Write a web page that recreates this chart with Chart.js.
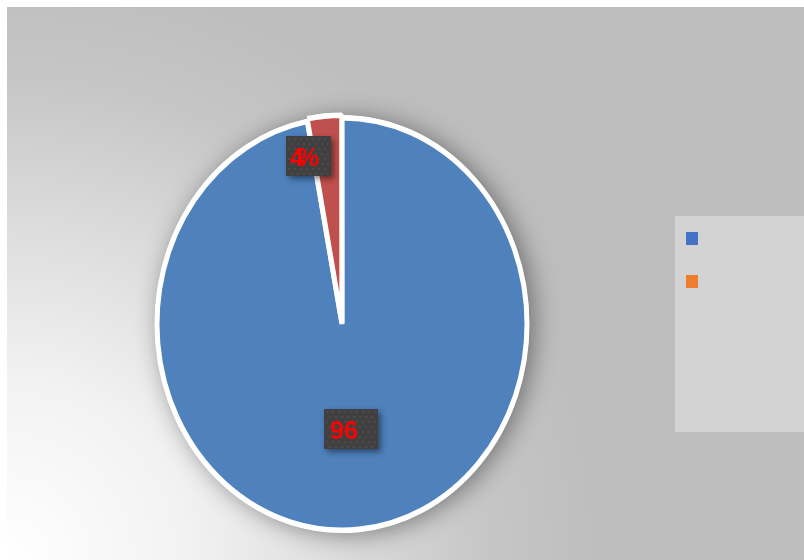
<!DOCTYPE html>
<html>
<head>
<meta charset="utf-8">
<script src="https://cdn.jsdelivr.net/npm/chart.js@4.4.1/dist/chart.umd.min.js"></script>
<style>
html, body { margin: 0; padding: 0; background: #fff; }
#wrap { position: relative; width: 804px; height: 560px; }
</style>
</head>
<body>
<div id="wrap"><canvas id="pieChart" width="804" height="560"></canvas></div>
<script>
// values (legend entries have no text)
const categories = ['', ''];
const values = [97, 3];
const labelTexts = ['96', '4%'];
const sliceColors = ['#4F81BD', '#C0504D'];
const legendColors = ['#4472C4', '#ED7D31'];

// the pie in the picture is an ellipse, taller than wide
const SCALE_Y = 208.5 / 187;

const backdrop = {
	id: 'backdrop',
	beforeDraw(chart) {
		const ctx = chart.ctx;
		ctx.save();
		ctx.fillStyle = '#fff';
		ctx.fillRect(0, 0, chart.width, chart.height);
		let g = ctx.createRadialGradient(7, 560, 0, 7, 560, 600);
		g.addColorStop(0, '#ffffff');
		g.addColorStop(0.3, '#f2f2f2');
		g.addColorStop(0.55, '#dddddd');
		g.addColorStop(0.8, '#c6c6c6');
		g.addColorStop(1, '#bdbdbd');
		ctx.fillStyle = g;
		ctx.fillRect(7, 7, chart.width - 7, chart.height - 7);
		ctx.restore();
	}
};

const ellipse = {
	id: 'ellipse',
	beforeDatasetsDraw(chart) {
		const arc = chart.getDatasetMeta(0).data[0];
		const ctx = chart.ctx;
		const r = arc.outerRadius + 2;
		ctx.save();
		// soft shadow under the pie
		ctx.save();
		ctx.shadowColor = 'rgba(0,0,0,0.42)';
		ctx.shadowBlur = 24;
		ctx.shadowOffsetX = 5;
		ctx.shadowOffsetY = 2;
		ctx.beginPath();
		ctx.ellipse(arc.x, arc.y, r, r * SCALE_Y, 0, 0, Math.PI * 2);
		ctx.fillStyle = '#fff';
		ctx.fill();
		ctx.restore();
		ctx.translate(arc.x, arc.y);
		ctx.scale(1, SCALE_Y);
		ctx.translate(-arc.x, -arc.y);
	},
	afterDatasetsDraw(chart) {
		chart.ctx.restore();
	}
};

const boxLabels = {
	id: 'boxLabels',
	afterDraw(chart, args, opts) {
		const ctx = chart.ctx;
		const meta = chart.getDatasetMeta(0);
		meta.data.forEach((arc, i) => {
			const mid = (arc.startAngle + arc.endAngle) / 2;
			const r = arc.outerRadius * opts.radius[i];
			const cx = arc.x + Math.cos(mid) * r + opts.shift[i][0];
			const cy = arc.y + Math.sin(mid) * r * SCALE_Y + opts.shift[i][1];
			const w = opts.width[i], h = 40;
			const x0 = Math.round(cx - w / 2), y0 = Math.round(cy - h / 2);
			ctx.save();
			ctx.shadowColor = 'rgba(0,0,0,0.45)';
			ctx.shadowBlur = 6;
			ctx.shadowOffsetX = 3;
			ctx.shadowOffsetY = 3;
			ctx.fillStyle = '#404040';
			ctx.fillRect(x0, y0, w, h);
			ctx.restore();
			// dotted texture of the label fill
			ctx.save();
			ctx.fillStyle = '#4b4b4b';
			for (let yy = y0 + 2, row = 0; yy < y0 + h - 1; yy += 5, row++) {
				for (let xx = x0 + 2 + (row % 2) * 3; xx < x0 + w - 1; xx += 6) {
					ctx.fillRect(xx, yy, 2, 2);
				}
			}
			ctx.fillStyle = '#ff0000';
			ctx.font = 'bold 25px "Liberation Sans", Arial, sans-serif';
			ctx.letterSpacing = opts.spacing[i];
			ctx.textBaseline = 'middle';
			ctx.textAlign = 'left';
			ctx.fillText(labelTexts[i], x0 + opts.pad[i], y0 + h / 2 + 3);
			ctx.restore();
		});
	}
};

const sideLegend = {
	id: 'sideLegend',
	afterDraw(chart) {
		const ctx = chart.ctx;
		ctx.save();
		ctx.fillStyle = '#d3d3d3';
		ctx.fillRect(675, 216, chart.width - 675, 216);
		legendColors.forEach((c, i) => {
			ctx.fillStyle = c;
			ctx.fillRect(686, 232 + i * 43, 12, 13);
			ctx.fillStyle = '#000';
			ctx.font = '14px "Liberation Sans"';
			ctx.fillText(categories[i], 706, 243 + i * 43);
		});
		ctx.restore();
	}
};

let ctx = document.querySelector('#pieChart').getContext('2d');
new Chart(ctx, {
	type: 'pie',
	data: {
		labels: categories,
		datasets: [{
			data: values,
			backgroundColor: sliceColors,
			borderColor: '#ffffff',
			borderWidth: 5,
			offset: [0, 5],
			radius: 185,
			clip: false
		}]
	},
	options: {
		responsive: false,
		animation: false,
		layout: { padding: { left: 0, right: 120, top: 88, bottom: 0 } },
		plugins: {
			legend: { display: false },
			tooltip: { enabled: false },
			boxLabels: {
				radius: [0.51, 0.82],
				shift: [[0, 0], [-19, 0]],
				width: [54, 45],
				pad: [6, 4],
				spacing: ['0px', '-7px']
			}
		}
	},
	plugins: [backdrop, ellipse, boxLabels, sideLegend]
});
</script>
</body>
</html>
